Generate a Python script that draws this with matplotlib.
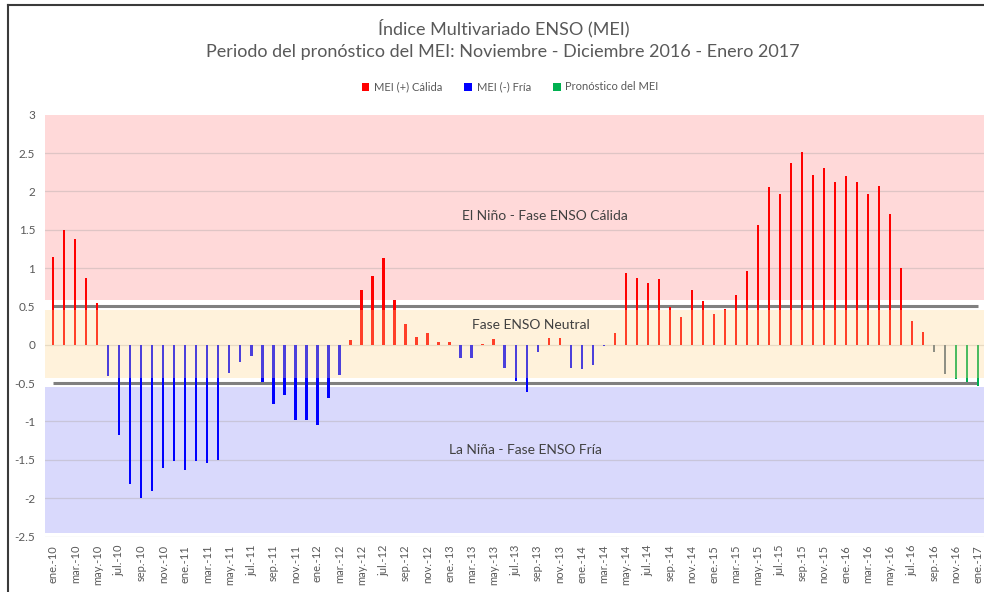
import matplotlib
matplotlib.use("Agg")
import matplotlib.pyplot as plt
from matplotlib.lines import Line2D
from matplotlib.patches import Patch

plt.rcParams['font.family'] = ['Lato', 'DejaVu Sans']

# ---------------- data ----------------
month_abbr = ["ene.", "feb.", "mar.", "abr.", "may.", "jun.",
              "jul.", "ago.", "sep.", "oct.", "nov.", "dic."]
years = ["10", "11", "12", "13", "14", "15", "16", "17"]

mei_values = [
    1.15, 1.50, 1.38, 0.87, 0.54,
    -0.41, -1.17, -1.82, -2.00, -1.91, -1.61, -1.52, -1.63, -1.52, -1.54, -1.50,
    -0.37, -0.23, -0.14, -0.49, -0.77, -0.65, -0.98, -0.98, -1.04, -0.70, -0.40,
    0.06, 0.71, 0.90, 1.13, 0.58, 0.27, 0.10, 0.16, 0.04, 0.04,
    -0.17, -0.17, 0.01, 0.07, -0.30, -0.47, -0.61, -0.10,
    0.09, 0.09,
    -0.30, -0.31, -0.27, -0.01,
    0.15, 0.93, 0.87, 0.81, 0.86, 0.49, 0.36, 0.71, 0.57, 0.40, 0.47, 0.65,
    0.96, 1.56, 2.06, 1.97, 2.37, 2.52, 2.22, 2.31, 2.12, 2.20, 2.12, 1.96,
    2.07, 1.70, 1.00, 0.31, 0.17,
    -0.10, -0.38,
    -0.44, -0.49, -0.54,
]
# last bars: 2 preliminary observations, 3 forecast months
n_prelim = 2
n_forecast = 3

legend_labels = ["MEI (+) Cálida", "MEI (-) Fría", "Pronóstico del MEI"]
zone_labels = ["El Niño - Fase ENSO Cálida", "Fase ENSO Neutral", "La Niña - Fase ENSO Fría"]
y_ticks = [3, 2.5, 2, 1.5, 1, 0.5, 0, -0.5, -1, -1.5, -2, -2.5]
title_lines = ["Índice Multivariado ENSO (MEI)",
               "Periodo del pronóstico del MEI: Noviembre - Diciembre 2016 - Enero 2017"]

month_labels = [f"{m}-{y}" for y in years for m in month_abbr][:len(mei_values)]

# ---------------- colours ----------------
RED = "#ff0000"
BLUE = "#0000ff"
GREEN = "#00b050"
PRELIM = "#5f7284"
TXT = "#595959"

n = len(mei_values)
colors = []
for i, v in enumerate(mei_values):
    if i >= n - n_forecast:
        colors.append(GREEN)
    elif i >= n - n_forecast - n_prelim:
        colors.append(PRELIM)
    else:
        colors.append(RED if v >= 0 else BLUE)

W, H = 984, 592
fig = plt.figure(figsize=(W / 100, H / 100), dpi=100)
ax = fig.add_axes([45 / W, 1 - 536.5 / H, (984 - 45) / W, (536.5 - 114.7) / H])

x = list(range(n))
ax.set_xlim(-0.75, 84.55)
ax.set_ylim(-2.5, 3)

# bands
ax.axhspan(0.58, 3.0, color="#ffd9d9", zorder=0, lw=0)
ax.axhspan(-2.45, -0.55, color="#d9d9fc", zorder=0, lw=0)
# gridlines
for yv in y_ticks:
    if abs(yv) != 0.5 and yv != 3:
        ax.axhline(yv, color="#b0a8a8", lw=0.9, alpha=0.4, zorder=1)

# bars
ax.bar(x, mei_values, width=0.2, color=colors, zorder=2, lw=0)

# neutral band drawn over bars (semi-transparent)
ax.axhspan(-0.43, 0.45, color="#ffd78a", alpha=0.3, zorder=3, lw=0)

# threshold lines
ax.plot([0, 84], [0.5, 0.5], color="#808080", lw=2.2, zorder=1.8, solid_capstyle="butt")
ax.plot([0, 84], [-0.5, -0.5], color="#808080", lw=2.2, zorder=1.8, solid_capstyle="butt")

# zone texts
ax.text(44.7, 1.68, zone_labels[0], ha="center", va="center", fontsize=10, color="#404040", zorder=5)
ax.text(43.4, 0.26, zone_labels[1], ha="center", va="center", fontsize=10, color="#404040", zorder=5)
ax.text(42.9, -1.37, zone_labels[2], ha="center", va="center", fontsize=10, color="#404040", zorder=5)

# axes styling
for s in ax.spines.values():
    s.set_visible(False)
ax.set_yticks(y_ticks)
ax.set_yticklabels([f"{t:g}" for t in y_ticks], color=TXT, fontsize=8.5)
ax.set_xticks(x[::2])
ax.set_xticklabels(month_labels[::2], rotation=90, color=TXT, fontsize=8)
ax.tick_params(axis="y", length=0, pad=7)
ax.tick_params(axis="x", length=0, pad=6)

# title
fig.text(0.512, 1 - 28 / H, title_lines[0], ha="center", va="center", fontsize=13, color=TXT)
fig.text(0.511, 1 - 52 / H, title_lines[1], ha="center", va="center", fontsize=13, color=TXT)

# legend
handles = [Patch(facecolor=c, edgecolor="none") for c in (RED, BLUE, GREEN)]
fig.legend(handles, legend_labels, loc="center", bbox_to_anchor=(510 / W, 1 - 87 / H),
           ncol=3, frameon=False, fontsize=8, handlelength=0.7, handleheight=0.7,
           handletextpad=0.4, columnspacing=2.0, labelcolor=TXT)

# outer frame (left and top)
fig.add_artist(Line2D([8 / W, 8 / W], [0, 1 - 5 / H], transform=fig.transFigure, color="#3a3a3a", lw=1.5))
fig.add_artist(Line2D([8 / W, 1], [1 - 5 / H, 1 - 5 / H], transform=fig.transFigure, color="#3a3a3a", lw=1.5))

fig.savefig("out.png", dpi=100)
